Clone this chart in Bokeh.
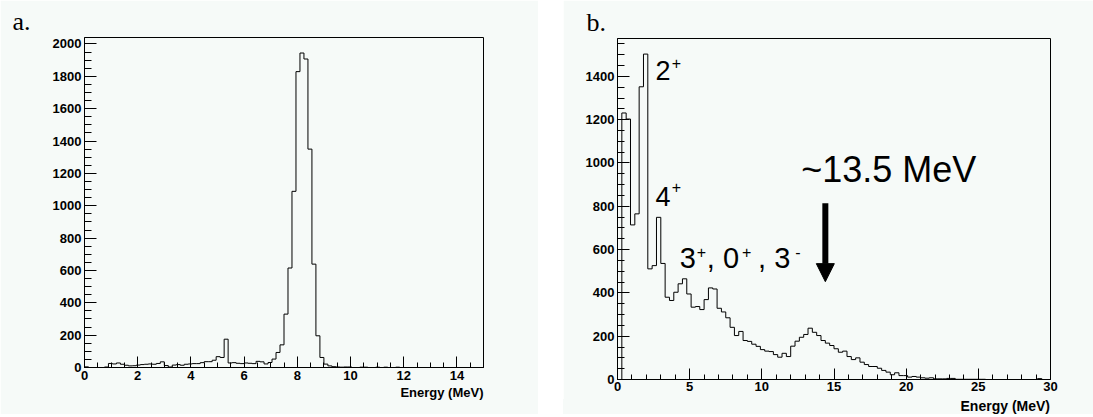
import numpy as np
from bokeh.plotting import figure
from bokeh.models import Range1d, SingleIntervalTicker, Label, Arrow, NormalHead, Spacer, Title, Div
from bokeh.layouts import row, column
from bokeh.embed import file_html
from bokeh.resources import INLINE

# ---------------- data ----------------
# Panel a: 100 bins, 0-15 MeV
a_range = (0.0, 15.0)
a_nbins = 100
a_counts = [4, 0, 0, 0, 0, 3, 25, 22, 28, 20,
            14, 10, 11, 15, 18, 20, 22, 20, 25, 35,
            12, 3, 15, 18, 14, 20, 22, 24, 24, 30,
            36, 36, 45, 67, 62, 175, 28, 30, 26, 24,
            28, 26, 24, 38, 35, 22, 31, 52, 93, 140,
            330, 615, 1089, 1829, 1944, 1907, 1350, 639, 196, 62,
            21, 10, 5, 3, 2, 3, 3, 0, 0, 2,
            2, 0, 0, 2, 0, 2, 0, 0, 2, 0,
            0, 0, 0, 0, 0, 0, 0, 0, 0, 0,
            0, 0, 0, 0, 0, 0, 0, 0, 0, 0]

# Panel b: 100 bins, 0-30 MeV
b_range = (0.0, 30.0)
b_nbins = 100
b_counts = [0, 1231, 1203, 714, 765, 1352, 1503, 511, 526, 749,
            536, 380, 365, 403, 442, 465, 395, 334, 337, 323,
            369, 423, 418, 329, 312, 285, 241, 203, 222, 180,
            176, 163, 153, 138, 131, 129, 115, 103, 121, 106,
            154, 177, 195, 208, 237, 218, 203, 180, 168, 157,
            142, 126, 131, 106, 92, 100, 80, 69, 60, 60,
            52, 42, 34, 22, 31, 18, 18, 11, 14, 11,
            8, 6, 8, 3, 3, 3, 5, 5, 1, 1,
            1, 1, 1, 1, 1, 0, 0, 0, 0, 0,
            0, 0, 0, 0, 0, 0, 0, 4, 0, 0]

x_label = "Energy (MeV)"
BG = "#f6faf8"
TICK_FONT = "Liberation Sans"


def hist_fig(width, height, bl, br, bt, bb, xr, yr, xint, xminor, yint, yminor):
    p = figure(width=width, height=height, output_backend="svg", toolbar_location=None,
               x_range=Range1d(*xr), y_range=Range1d(*yr),
               min_border_left=bl, min_border_right=br,
               min_border_top=bt, min_border_bottom=bb)
    p.background_fill_color = BG
    p.border_fill_color = BG
    p.outline_line_color = "black"
    p.outline_line_width = 1
    p.xgrid.visible = False
    p.ygrid.visible = False
    p.xaxis.ticker = SingleIntervalTicker(interval=xint, num_minor_ticks=xminor)
    p.yaxis.ticker = SingleIntervalTicker(interval=yint, num_minor_ticks=yminor)
    for ax in (p.xaxis, p.yaxis):
        ax.axis_line_color = "black"
        ax.major_tick_line_color = "black"
        ax.minor_tick_line_color = "black"
        ax.major_tick_out = 0
        ax.minor_tick_out = 0
        ax.major_label_text_font = TICK_FONT
        ax.major_label_text_font_style = "bold"
        ax.major_label_text_font_size = "13px"
        ax.major_label_text_color = "black"
        ax.major_label_standoff = 3
    p.xaxis.major_tick_in = 11
    p.xaxis.minor_tick_in = 5
    p.yaxis.major_tick_in = 12
    p.yaxis.minor_tick_in = 7
    return p


def draw_hist(p, counts, rng, nbins):
    edges = np.linspace(rng[0], rng[1], nbins + 1)
    ys = list(counts) + [counts[-1]]
    p.step(x=edges, y=ys, mode="after", line_color="black", line_width=1)


def txt(p, x, y, s, size, font="Liberation Sans", align="left", baseline="middle"):
    p.add_layout(Label(x=x, y=y, text=s, text_font=font, text_font_size=size,
                       text_align=align, text_baseline=baseline, text_color="black"))


def panel_title(p, s, offset):
    p.add_layout(Title(text=s, align="left", offset=offset, standoff=4,
                       text_font="Liberation Serif", text_font_size="26px",
                       text_font_style="normal", text_color="black"), "above")


# ---------------- panel a ----------------
pa = hist_fig(538, 414, 84, 55, 37, 47, a_range, (0, 2040), 2, 4, 200, 4)
draw_hist(pa, a_counts, a_range, a_nbins)
pa.add_layout(Title(text=x_label, align="right", standoff=0,
                    text_font=TICK_FONT, text_font_size="13px",
                    text_font_style="bold", text_color="black"), "below")
panel_title(pa, "a.", -72)

# ---------------- panel b ----------------
B_W, B_H, LBL_H = 530, 399, 15
pb = hist_fig(B_W, B_H, 54, 43, 38, 20, b_range, (0, 1575), 5, 5, 200, 4)
pb.xaxis.major_label_standoff = 2
draw_hist(pb, b_counts, b_range, b_nbins)
panel_title(pb, "b.", -31)

# state labels (vertically centred on the digits)
txt(pb, 2.64, 1428, "2", "27px")
txt(pb, 3.76, 1461, "+", "16px")
txt(pb, 2.64, 845, "4", "27px")
txt(pb, 3.76, 887, "+", "16px")
txt(pb, 4.31, 561, "3", "29px")
txt(pb, 5.49, 591, "+", "16px")
txt(pb, 6.19, 561, ", 0", "29px")
txt(pb, 8.62, 591, "+", "16px")
txt(pb, 9.74, 561, ", 3", "29px")
txt(pb, 12.31, 591, "-", "16px")
txt(pb, 12.73, 969, "~13.5 MeV", "36px")
pb.add_layout(Arrow(x_start=14.4, y_start=814, x_end=14.4, y_end=452,
                    line_width=6, line_color="black",
                    end=NormalHead(size=18, fill_color="black", line_color="black")))

# x-axis title of panel b, right-aligned under the frame
lbl_b = Div(text=(f'<div style="width:{B_W}px;height:{LBL_H}px;box-sizing:border-box;'
                  f'padding-right:43px;text-align:right;background:{BG};'
                  f"font-family:'Liberation Sans';font-weight:bold;font-size:14px;"
                  f'line-height:{LBL_H}px;color:black;white-space:nowrap;">{x_label}</div>'),
            width=B_W, height=LBL_H, margin=0,
            styles={"background-color": BG})

layout = row(pa, Spacer(width=25, height=414), column(pb, lbl_b, spacing=0), spacing=0)
open("out.html", "w").write(file_html(layout, INLINE))
